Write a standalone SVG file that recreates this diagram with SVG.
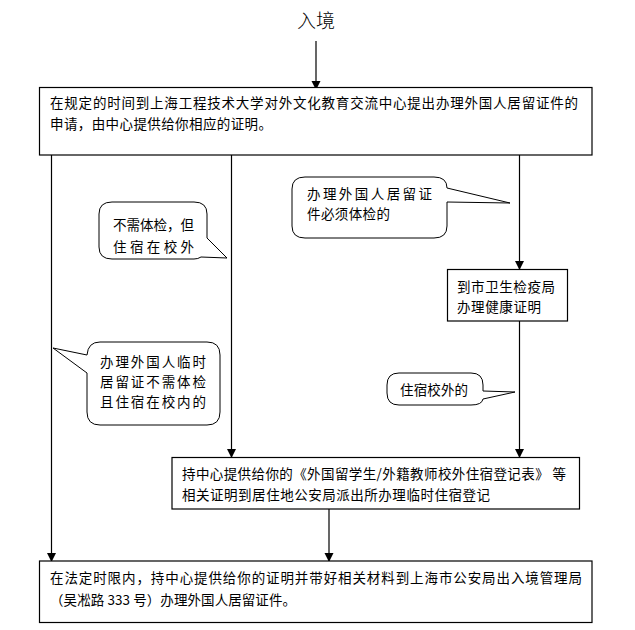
<svg xmlns="http://www.w3.org/2000/svg" width="635" height="630" viewBox="0 0 635 630">
<defs>
<style>
.box{fill:#fff;stroke:#000;stroke-width:1.2}
.call{fill:#fff;stroke:#000;stroke-width:1}
.t{font-family:"Noto Sans CJK SC","Liberation Sans",sans-serif;font-size:13.5px;fill:#000}
.title{font-family:"Noto Sans CJK SC","Liberation Sans",sans-serif;font-size:19px;font-weight:300;fill:#000}
.ln{stroke:#000;stroke-width:1.2;fill:none}
</style>
<marker id="ah" markerUnits="userSpaceOnUse" markerWidth="10" markerHeight="10" refX="9" refY="4.5" orient="auto">
<path d="M0,0 L9,4.5 L0,9 Z" fill="#000"/>
</marker>
</defs>
<rect width="635" height="630" fill="#fff"/>

<g id="start">
<text class="title" x="316" y="28" text-anchor="middle">入境</text>
</g>

<g id="connectors">
<line class="ln" x1="316" y1="41" x2="316" y2="90" marker-end="url(#ah)"/>
<line class="ln" x1="51.5" y1="155" x2="51.5" y2="562" marker-end="url(#ah)"/>
<line class="ln" x1="231.5" y1="155" x2="231.5" y2="458" marker-end="url(#ah)"/>
<line class="ln" x1="519.5" y1="155" x2="519.5" y2="270" marker-end="url(#ah)"/>
<line class="ln" x1="519.5" y1="321" x2="519.5" y2="458" marker-end="url(#ah)"/>
<line class="ln" x1="329" y1="509" x2="329" y2="562" marker-end="url(#ah)"/>
</g>

<g id="apply">
<rect class="box" x="39.5" y="87.5" width="552.5" height="67.5"/>
<text class="t" x="50" y="108" textLength="528" lengthAdjust="spacing">在规定的时间到上海工程技术大学对外文化教育交流中心提出办理外国人居留证件的</text>
<text class="t" x="50" y="129" textLength="222" lengthAdjust="spacing">申请，由中心提供给你相应的证明。</text>
</g>

<g id="health">
<rect class="box" x="447.5" y="269.5" width="120" height="51.5"/>
<text class="t" x="457" y="292" textLength="98" lengthAdjust="spacing">到市卫生检疫局</text>
<text class="t" x="457" y="312" textLength="84" lengthAdjust="spacing">办理健康证明</text>
</g>

<g id="register">
<rect class="box" x="172" y="457.5" width="407.5" height="51.5"/>
<text class="t" x="182" y="479" textLength="384" lengthAdjust="spacing">持中心提供给你的《外国留学生/外籍教师校外住宿登记表》 等</text>
<text class="t" x="182" y="500" textLength="308" lengthAdjust="spacing">相关证明到居住地公安局派出所办理临时住宿登记</text>
</g>

<g id="final">
<rect class="box" x="39.5" y="561" width="552.5" height="61.5"/>
<text class="t" x="50" y="583" textLength="532" lengthAdjust="spacing">在法定时限内，持中心提供给你的证明并带好相关材料到上海市公安局出入境管理局</text>
<text class="t" x="50" y="605" textLength="246" lengthAdjust="spacing">（吴凇路 333 号）办理外国人居留证件。</text>
</g>

<g id="note-exam">
<path class="call" d="M305,177 H434 Q447,177 447,188 L510,203 L447,202 V226 Q447,238 434,238 H305 Q292,238 292,226 V189 Q292,177 305,177 Z"/>
<text class="t" x="307" y="199" textLength="125" lengthAdjust="spacing">办理外国人居留证</text>
<text class="t" x="307" y="219" textLength="83" lengthAdjust="spacing">件必须体检的</text>
</g>

<g id="note-outside">
<path class="call" d="M112,202 H194 Q207,202 207,214 V238 L227,258 L201,257 Q198,259 194,259 H112 Q99,259 99,247 V214 Q99,202 112,202 Z"/>
<text class="t" x="113" y="230" textLength="81" lengthAdjust="spacing">不需体检，但</text>
<text class="t" x="113" y="252" textLength="81" lengthAdjust="spacing">住宿在校外</text>
</g>

<g id="note-inside">
<path class="call" d="M100,342 H207 Q220,342 220,355 V412 Q220,425 207,425 H100 Q87,425 87,412 V373 L53,348 L87,355 Q88,342 100,342 Z"/>
<text class="t" x="100" y="367" textLength="106" lengthAdjust="spacing">办理外国人临时</text>
<text class="t" x="100" y="387" textLength="106" lengthAdjust="spacing">居留证不需体检</text>
<text class="t" x="100" y="407" textLength="106" lengthAdjust="spacing">且住宿在校内的</text>
</g>

<g id="note-offcampus">
<path class="call" d="M399,373 H471 Q483,373 483,385 V391 L515,392 L483,399 Q482,405 471,405 H399 Q387,405 387,393 V385 Q387,373 399,373 Z"/>
<text class="t" x="400" y="395" textLength="68" lengthAdjust="spacing">住宿校外的</text>
</g>
</svg>
